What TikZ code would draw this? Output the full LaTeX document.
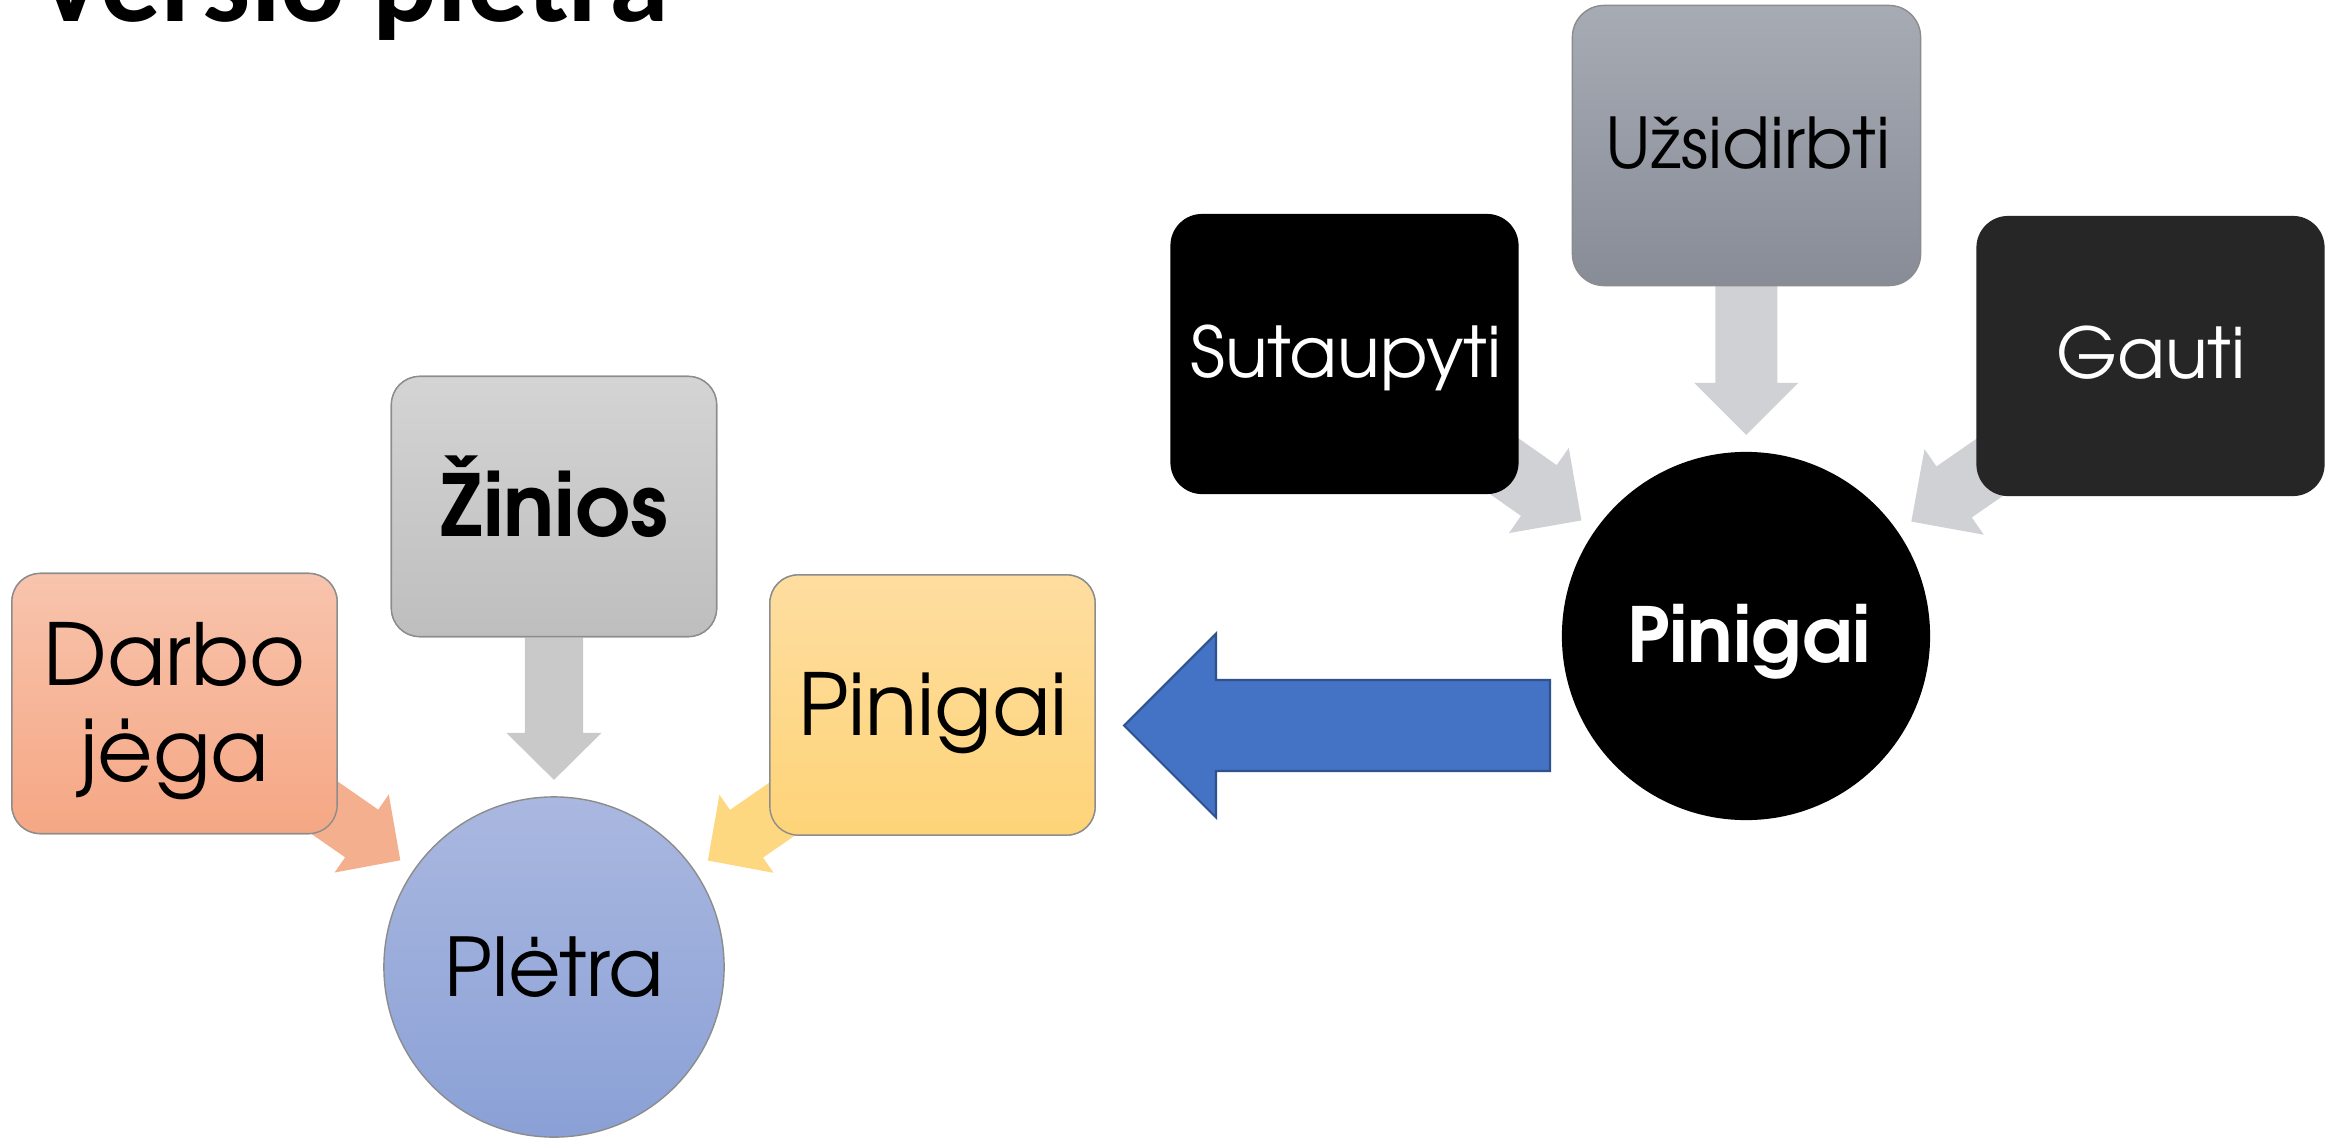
\documentclass[tikz,border=0pt]{standalone}
\usepackage{fontspec}
\usetikzlibrary{calc}
\IfFontExistsTF{TeX Gyre Adventor}{\newfontfamily\gfont{TeX Gyre Adventor}}{\newfontfamily\gfont{Poppins}}
\newfontfamily\titlefont{Carlito}
\definecolor{salTop}{HTML}{F8C4AD}
\definecolor{salBot}{HTML}{F5A784}
\definecolor{salArr}{HTML}{F4AF8E}
\definecolor{zTop}{HTML}{D4D4D4}
\definecolor{zBot}{HTML}{BEBEBE}
\definecolor{zArr}{HTML}{C9C9C9}
\definecolor{yTop}{HTML}{FEDDA0}
\definecolor{yBot}{HTML}{FED478}
\definecolor{yArr}{HTML}{FED880}
\definecolor{cTop}{HTML}{AAB8E0}
\definecolor{cBot}{HTML}{8AA0D6}
\definecolor{uTop}{HTML}{A7ABB4}
\definecolor{uBot}{HTML}{878C97}
\definecolor{rArr}{HTML}{CFD1D5}
\definecolor{gautiFill}{HTML}{262626}
\definecolor{blueFill}{HTML}{4472C4}
\definecolor{blueLine}{HTML}{2F528F}
\definecolor{edgeGray}{HTML}{8C8C8C}
\newcommand\myarrow[8]{%
  \coordinate (#1T) at ($(#3.center)!#4!(#2.center)$);
  \coordinate (#1B) at ($(#1T)!#5!(#2.center)$);
  \fill[#8] ($(#2.center)!#7!-90:(#1B)$) -- ($(#1B)!#7!90:(#2.center)$) -- ($(#1B)!#6!90:(#2.center)$) -- (#1T) -- ($(#1B)!#6!-90:(#2.center)$) -- ($(#1B)!#7!-90:(#2.center)$) -- ($(#2.center)!#7!90:(#1B)$) -- cycle;
}
\tikzset{
  lbox/.style={rectangle, rounded corners=8pt, minimum width=3.25cm, minimum height=2.6cm, inner sep=0pt, draw=edgeGray, line width=0.4pt},
  rbox/.style={rectangle, rounded corners=9pt, minimum width=3.48cm, minimum height=2.8cm, inner sep=0pt},
  txt/.style={inner sep=0pt, anchor=base},
  lfont/.style={font=\gfont\fontsize{24.3pt}{29pt}\selectfont},
  rfont/.style={font=\gfont\fontsize{19.9pt}{24pt}\selectfont},
}
\begin{document}
\begin{tikzpicture}[x=0.01cm,y=-0.01cm]
\useasboundingbox (0,0) rectangle (2341,1139);
\clip (0,0) rectangle (2341,1139);
\fill[white] (0,0) rectangle (2341,1139);
% title
\node[inner sep=0pt, anchor=base west, font=\titlefont\bfseries\fontsize{34.3pt}{40pt}\selectfont] (title) at (35,21) {Versio plėtra};
% ---------- left group ----------
\coordinate (pletC) at (554,967);
\coordinate (darboC) at (174.5,703.5);
\coordinate (zinC) at (554,506.5);
\coordinate (pinyC) at (932.5,705);
\node[circle, minimum size=3.4cm, inner sep=0pt] (plet) at (pletC) {};
\node[lbox] (darbo) at (darboC) {};
\node[lbox] (zin) at (zinC) {};
\node[lbox] (piny) at (pinyC) {};
\myarrow{a1}{darbo}{plet}{1.87cm}{0.47cm}{0.475cm}{0.29cm}{salArr}
\myarrow{a2}{zin}{plet}{1.87cm}{0.47cm}{0.475cm}{0.29cm}{zArr}
\myarrow{a3}{piny}{plet}{1.87cm}{0.47cm}{0.475cm}{0.29cm}{yArr}
\node[lbox, top color=salTop, bottom color=salBot] (darboBox) at (darboC) {};
\node[lbox, top color=zTop, bottom color=zBot] (zinBox) at (zinC) {};
\node[lbox, top color=yTop, bottom color=yBot] (pinyBox) at (pinyC) {};
\node[circle, minimum size=3.4cm, inner sep=0pt, draw=edgeGray, line width=0.4pt, top color=cTop, bottom color=cBot] (pletBox) at (pletC) {};
\node[txt, lfont] (darboT1) at (174.5,685) {Darbo};
\node[txt, lfont] (darboT2) at (174.5,781) {jėga};
\node[txt, font=\gfont\bfseries\fontsize{24.3pt}{29pt}\selectfont] (zinT) at (554,536) {Žinios};
\node[txt, lfont] (pinyT) at (933,735) {Pinigai};
\node[txt, font=\gfont\fontsize{23pt}{27pt}\selectfont] (pletT) at (554,996) {Plėtra};
% ---------- right group ----------
\coordinate (pinC) at (1746,636);
\coordinate (uzC) at (1746.5,145.5);
\coordinate (sutC) at (1344.5,354);
\coordinate (gauC) at (2150.5,356);
\node[circle, minimum size=3.68cm, inner sep=0pt] (pin) at (pinC) {};
\node[rbox] (uz) at (uzC) {};
\node[rbox] (sut) at (sutC) {};
\node[rbox] (gau) at (gauC) {};
\myarrow{b1}{sut}{pin}{2.01cm}{0.52cm}{0.52cm}{0.31cm}{rArr}
\myarrow{b2}{uz}{pin}{2.01cm}{0.52cm}{0.52cm}{0.31cm}{rArr}
\myarrow{b3}{gau}{pin}{2.01cm}{0.52cm}{0.52cm}{0.31cm}{rArr}
\node[rbox, top color=uTop, bottom color=uBot, draw=edgeGray, line width=0.4pt] (uzBox) at (uzC) {};
\node[rbox, fill=black] (sutBox) at (sutC) {};
\node[rbox, fill=gautiFill] (gauBox) at (gauC) {};
\node[circle, minimum size=3.68cm, inner sep=0pt, fill=black] (pinBox) at (pinC) {};
\node[txt, rfont] (uzT) at (1748,168) {Užsidirbti};
\node[txt, rfont, text=white] (sutT) at (1346,377) {Sutaupyti};
\node[txt, rfont, text=white] (gauT) at (2151,378) {Gauti};
\node[txt, text=white, font=\gfont\bfseries\fontsize{21.6pt}{26pt}\selectfont] (pinT) at (1749,662) {Pinigai};
% ---------- blue arrow ----------
\coordinate (bt) at (1550,725.5);
\coordinate (bh) at (1124,725.5);
\draw[blueLine, fill=blueFill, line width=0.6pt, line join=miter] ($(bt)+(0,-45.5)$) -- ($(bh)+(92,-45.5)$) -- ($(bh)+(92,-92)$) -- (bh) -- ($(bh)+(92,92)$) -- ($(bh)+(92,45.5)$) -- ($(bt)+(0,45.5)$) -- cycle;
\end{tikzpicture}
\end{document}
